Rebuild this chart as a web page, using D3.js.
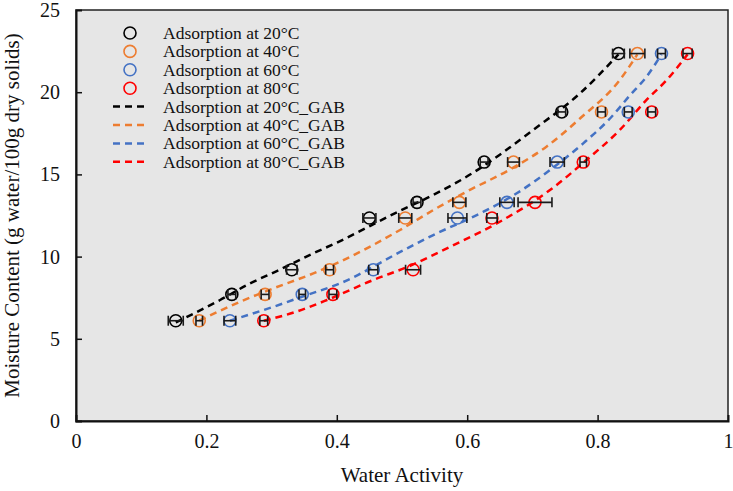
<!DOCTYPE html>
<html>
<head>
<meta charset="utf-8">
<script src="https://cdn.jsdelivr.net/npm/d3@7"></script>
<style>
  body { margin: 0; background: #fff; }
  text { font-family: "Liberation Serif", "Times New Roman", serif; fill: #111; }
</style>
</head>
<body>
<div id="chart"></div>
<script>
// measured points: water activity, moisture content, error (x)
var aw20 = [0.153, 0.239, 0.331, 0.450, 0.523, 0.626, 0.745, 0.832];
var aw40 = [0.189, 0.290, 0.389, 0.505, 0.588, 0.671, 0.806, 0.861];
var aw60 = [0.236, 0.347, 0.456, 0.585, 0.661, 0.738, 0.847, 0.898];
var aw80 = [0.288, 0.394, 0.517, 0.638, 0.704, 0.778, 0.883, 0.938];
var moisture = [6.1, 7.7, 9.2, 12.35, 13.3, 15.75, 18.8, 22.35];
var err20 = [0.0115, 0.006, 0.008, 0.010, 0.006, 0.006, 0.006, 0.009];
var err40 = [0.005, 0.006, 0.006, 0.010, 0.010, 0.009, 0.006, 0.0115];
var err60 = [0.009, 0.005, 0.007, 0.0145, 0.011, 0.011, 0.006, 0.006];
var err80 = [0.006, 0.006, 0.0115, 0.008, 0.026, 0.005, 0.006, 0.007];

// GAB fitted curves [aw, M]
var gab20 = [[0.153, 6.0], [0.221, 7.36], [0.267, 8.37], [0.308, 9.12], [0.364, 10.2], [0.400, 10.85],
  [0.496, 12.77], [0.548, 13.75], [0.609, 15.1], [0.650, 16.2], [0.701, 17.7], [0.773, 19.93], [0.832, 22.3]];
var gab40 = [[0.189, 6.1], [0.252, 7.26], [0.303, 8.07], [0.364, 8.98], [0.405, 9.69], [0.497, 11.62],
  [0.548, 12.83], [0.599, 13.95], [0.666, 15.31], [0.722, 16.7], [0.773, 18.4], [0.834, 20.74], [0.861, 22.3]];
var gab60 = [[0.236, 6.1], [0.303, 6.95], [0.354, 7.66], [0.405, 8.37], [0.498, 10.3], [0.548, 11.31],
  [0.625, 12.73], [0.676, 13.85], [0.727, 15.27], [0.778, 16.89], [0.819, 18.4], [0.85, 19.83], [0.875, 20.94], [0.898, 22.3]];
var gab80 = [[0.288, 6.1], [0.338, 6.65], [0.385, 7.36], [0.456, 8.58], [0.507, 9.35], [0.574, 10.6],
  [0.650, 12.12], [0.727, 14.05], [0.783, 15.88], [0.834, 17.7], [0.875, 19.53], [0.906, 20.74], [0.938, 22.3]];

var xTicks = [0, 0.2, 0.4, 0.6, 0.8, 1];
var yTicks = [0, 5, 10, 15, 20, 25];

var series = [
  { name: "Adsorption at 20°C", color: "#000000", aw: aw20, err: err20, gab: gab20 },
  { name: "Adsorption at 40°C", color: "#ED7D31", aw: aw40, err: err40, gab: gab40 },
  { name: "Adsorption at 60°C", color: "#4472C4", aw: aw60, err: err60, gab: gab60 },
  { name: "Adsorption at 80°C", color: "#FF0000", aw: aw80, err: err80, gab: gab80 }
];

var width = 733, height = 491;
var margin = { left: 76, right: 5, top: 10, bottom: 70 };

var svg = d3.select('#chart').append('svg')
  .attr('width', width)
  .attr('height', height);

var x = d3.scaleLinear().domain([0, 1]).range([margin.left, width - margin.right]);
var y = d3.scaleLinear().domain([0, 25]).range([height - margin.bottom, margin.top]);

// plot area
svg.append('rect')
  .attr('x', x(0)).attr('y', y(25))
  .attr('width', x(1) - x(0)).attr('height', y(0) - y(25))
  .attr('fill', '#e6e6e6')
  .attr('stroke', '#222').attr('stroke-width', 1.5);

// axes with inward ticks
var xAxis = svg.append('g')
  .attr('transform', 'translate(0,' + y(0) + ')')
  .call(d3.axisBottom(x).tickValues(xTicks).tickSize(-6).tickPadding(13).tickFormat(d3.format('~g')));
var yAxis = svg.append('g')
  .attr('transform', 'translate(' + x(0) + ',0)')
  .call(d3.axisLeft(y).tickValues(yTicks).tickSize(-6).tickPadding(16));

[xAxis, yAxis].forEach(function(g) {
  g.select('.domain').attr('stroke', '#111').attr('stroke-width', 2);
  g.selectAll('.tick line').attr('stroke', '#111').attr('stroke-width', 1.5);
  g.selectAll('.tick text').attr('font-size', 20)
    .attr('font-family', '"Liberation Serif", serif').attr('fill', '#111');
});
xAxis.selectAll('.tick').filter(function(d) { return d === 0 || d === 1; }).select('line').remove();
yAxis.selectAll('.tick').filter(function(d) { return d === 0 || d === 25; }).select('line').remove();

svg.append('text')
  .attr('x', (x(0) + x(1)) / 2).attr('y', 482)
  .attr('text-anchor', 'middle').attr('font-size', 21)
  .text('Water Activity');

svg.append('text')
  .attr('transform', 'translate(19,' + ((y(0) + y(25)) / 2) + ') rotate(-90)')
  .attr('text-anchor', 'middle').attr('font-size', 21)
  .text('Moisture Content (g water/100g dry solids)');

// GAB lines
var line = d3.line()
  .x(function(d) { return x(d[0]); })
  .y(function(d) { return y(d[1]); })
  .curve(d3.curveMonotoneX);

series.forEach(function(s) {
  svg.append('path')
    .datum(s.gab)
    .attr('fill', 'none')
    .attr('stroke', s.color)
    .attr('stroke-width', 2.5)
    .attr('stroke-dasharray', '7,5')
    .attr('d', line);
});

// measured points with horizontal error bars
series.forEach(function(s) {
  var pts = s.aw.map(function(a, i) { return { a: a, m: moisture[i], e: s.err[i] }; });
  var g = svg.append('g');
  g.selectAll('circle').data(pts).enter().append('circle')
    .attr('cx', function(d) { return x(d.a); })
    .attr('cy', function(d) { return y(d.m); })
    .attr('r', 6)
    .attr('fill', 'none')
    .attr('stroke', s.color)
    .attr('stroke-width', 1.6);
  var eb = g.selectAll('g.eb').data(pts).enter().append('g').attr('class', 'eb')
    .attr('stroke', '#1a1a1a').attr('stroke-width', 1.6);
  eb.append('line')
    .attr('x1', function(d) { return x(d.a - d.e); })
    .attr('x2', function(d) { return x(d.a + d.e); })
    .attr('y1', function(d) { return y(d.m); })
    .attr('y2', function(d) { return y(d.m); });
  [-1, 1].forEach(function(sgn) {
    eb.append('line')
      .attr('x1', function(d) { return x(d.a + sgn * d.e); })
      .attr('x2', function(d) { return x(d.a + sgn * d.e); })
      .attr('y1', function(d) { return y(d.m) - 5; })
      .attr('y2', function(d) { return y(d.m) + 5; });
  });
});

// legend
var legend = svg.append('g');
var legY0 = 33, legStep = 18.4;
series.forEach(function(s, i) {
  var yy = legY0 + i * legStep;
  legend.append('circle').attr('cx', 130).attr('cy', yy).attr('r', 6)
    .attr('fill', 'none').attr('stroke', s.color).attr('stroke-width', 1.6);
  legend.append('text').attr('x', 163).attr('y', yy + 6).attr('font-size', 17.5).text(s.name);
});
series.forEach(function(s, i) {
  var yy = legY0 + (i + 4) * legStep;
  legend.append('line').attr('x1', 113).attr('x2', 149).attr('y1', yy).attr('y2', yy)
    .attr('stroke', s.color).attr('stroke-width', 2.5).attr('stroke-dasharray', '7,5');
  legend.append('text').attr('x', 163).attr('y', yy + 6).attr('font-size', 17.5).text(s.name + '_GAB');
});
</script>
</body>
</html>
